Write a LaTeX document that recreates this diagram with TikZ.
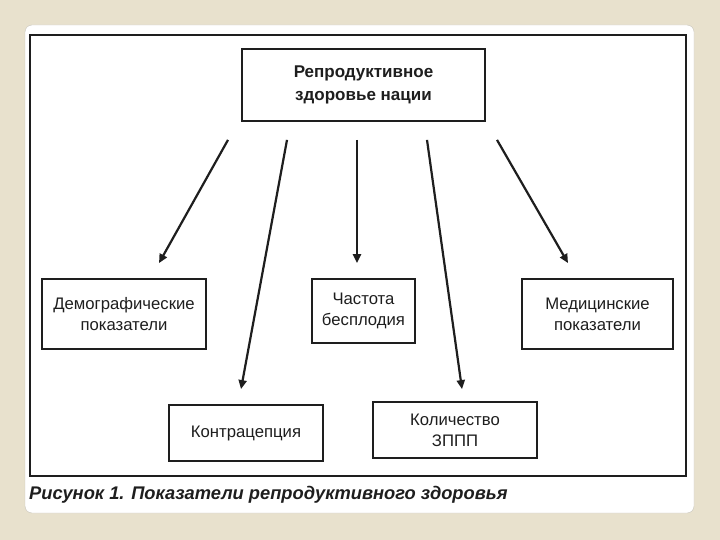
\documentclass[tikz,border=0pt]{standalone}
\usepackage{fontspec}
\setmainfont{Liberation Sans}
\usetikzlibrary{arrows.meta}
\definecolor{slidebg}{RGB}{232,225,205}
\definecolor{slideedge}{RGB}{200,196,186}
\definecolor{ink}{RGB}{30,30,30}
\begin{document}
\begin{tikzpicture}[x=1pt, y=-1pt,
    box/.style={draw=ink, line width=1.8pt, align=center, inner sep=0pt, text=ink,
                font=\fontsize{16.7}{21}\selectfont},
    arr/.style={draw=ink, line width=2.2pt, -{Triangle[length=9pt,width=8pt]}}]
            \fill[slidebg] (0,0) rectangle (720,540);
            \fill[white, draw=slideedge, rounded corners=7pt] (25,25) rectangle (694,513);
            \draw[ink, line width=2pt] (30,35) rectangle (686,476);
            \node[box, minimum width=243pt, minimum height=72pt,
                  font=\fontsize{17}{23}\selectfont\bfseries] (top) at (363.5,85)
                {Репродуктивное\\здоровье нации};
            \node[box, minimum width=164pt, minimum height=70pt] (demo) at (124,314)
                {Демографические\\показатели};
            \node[box, minimum width=103pt, minimum height=64pt] (freq) at (363.5,311)
                {Частота\\бесплодия};
            \node[box, minimum width=151pt, minimum height=70pt] (med) at (597.5,314)
                {Медицинские\\показатели};
            \node[box, minimum width=154pt, minimum height=56pt] (contra) at (246,433)
                {Контрацепция};
            \node[box, minimum width=164pt, minimum height=56pt] (stds) at (455,430)
                {Количество\\ЗППП};
            \draw[arr] ([xshift=-135.5pt,yshift=-18pt]top.south) -- ([xshift=35pt,yshift=15pt]demo.north);
            \draw[arr] ([xshift=-76.5pt,yshift=-18pt]top.south) -- ([xshift=-5pt,yshift=15pt]contra.north);
            \draw[arr] ([xshift=-6.5pt,yshift=-18pt]top.south) -- ([xshift=-6.5pt,yshift=15pt]freq.north);
            \draw[arr] ([xshift=63.5pt,yshift=-18pt]top.south) -- ([xshift=7pt,yshift=12pt]stds.north);
            \draw[arr] ([xshift=133.5pt,yshift=-18pt]top.south) -- ([xshift=-29.5pt,yshift=15pt]med.north);
            \node[anchor=base west, inner sep=0pt, text=ink,
                  font=\fontsize{18.3}{22}\selectfont\bfseries\itshape] (cap) at (29,499)
                {Рисунок 1. Показатели репродуктивного здоровья};
        \end{tikzpicture}
\end{document}
